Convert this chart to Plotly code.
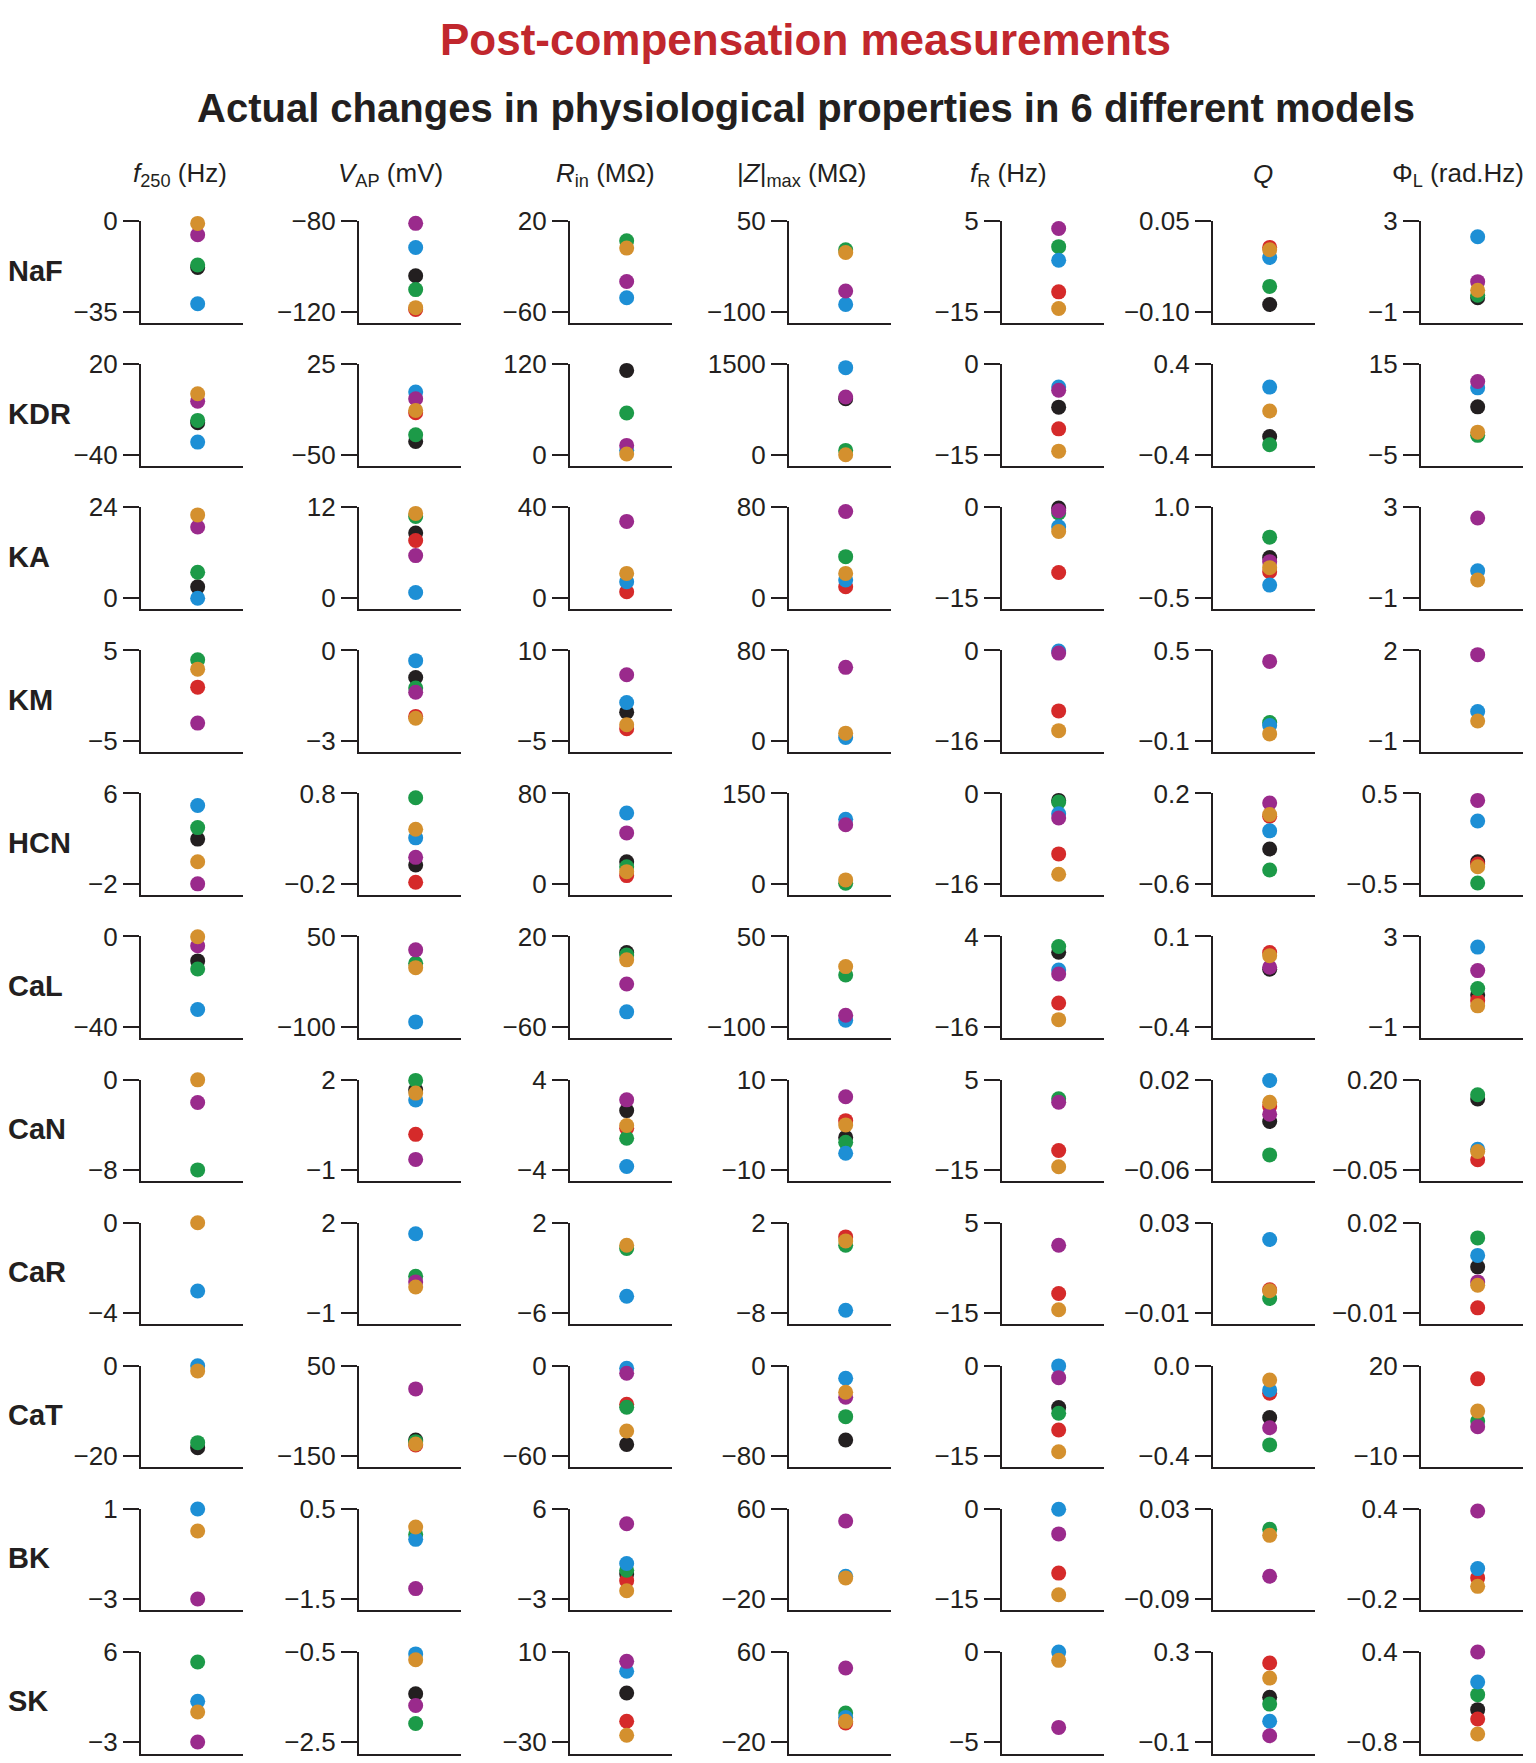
import plotly.graph_objects as go

# channels (rows) and measured properties (columns)
channels = ["NaF", "KDR", "KA", "KM", "HCN", "CaL", "CaN", "CaR", "CaT", "BK", "SK"]
properties = ["<i>f</i><sub>250</sub> (Hz)", "<i>V</i><sub>AP</sub> (mV)", "<i>R</i><sub>in</sub> (MΩ)",
              "|<i>Z</i>|<sub>max</sub> (MΩ)", "<i>f</i><sub>R</sub> (Hz)", "<i>Q</i>", "Φ<sub>L</sub> (rad.Hz)"]

# tick labels, one row per channel, one entry per property
tick_top = [
    ["0", "−80", "20", "50", "5", "0.05", "3"],
    ["20", "25", "120", "1500", "0", "0.4", "15"],
    ["24", "12", "40", "80", "0", "1.0", "3"],
    ["5", "0", "10", "80", "0", "0.5", "2"],
    ["6", "0.8", "80", "150", "0", "0.2", "0.5"],
    ["0", "50", "20", "50", "4", "0.1", "3"],
    ["0", "2", "4", "10", "5", "0.02", "0.20"],
    ["0", "2", "2", "2", "5", "0.03", "0.02"],
    ["0", "50", "0", "0", "0", "0.0", "20"],
    ["1", "0.5", "6", "60", "0", "0.03", "0.4"],
    ["6", "−0.5", "10", "60", "0", "0.3", "0.4"],
]
tick_bot = [
    ["−35", "−120", "−60", "−100", "−15", "−0.10", "−1"],
    ["−40", "−50", "0", "0", "−15", "−0.4", "−5"],
    ["0", "0", "0", "0", "−15", "−0.5", "−1"],
    ["−5", "−3", "−5", "0", "−16", "−0.1", "−1"],
    ["−2", "−0.2", "0", "0", "−16", "−0.6", "−0.5"],
    ["−40", "−100", "−60", "−100", "−16", "−0.4", "−1"],
    ["−8", "−1", "−4", "−10", "−15", "−0.06", "−0.05"],
    ["−4", "−1", "−6", "−8", "−15", "−0.01", "−0.01"],
    ["−20", "−150", "−60", "−80", "−15", "−0.4", "−10"],
    ["−3", "−1.5", "−3", "−20", "−15", "−0.09", "−0.2"],
    ["−3", "−2.5", "−30", "−20", "−5", "−0.1", "−0.8"],
]

# values for each of the 6 models (None = not visible)
model_black = [
    [-17.9, -104.1, None, None, None, -0.088, -0.38],
    [-18.7, -38.9, 112, 930, -7.1, -0.238, 5.6],
    [2.9, 8.6, None, None, -0.1, 0.167, None],
    [None, -0.90, -0.24, None, None, None, None],
    [1.96, 0.009, 19.6, None, -1.23, -0.292, -0.255],
    [-10.8, None, 5.8, None, 0.52, -0.081, 0.41],
    [None, 1.66, 1.25, -2.8, None, -0.0172, 0.146],
    [None, None, None, None, None, None, 0.0053],
    [-18.15, -114.6, -52.3, -65.8, -6.97, -0.230, None],
    [None, None, -0.5, None, None, None, None],
    [None, -1.43, -8.3, None, None, 0.098, -0.37],
]
model_red = [
    [None, -119, None, None, -10.6, 0.0067, None],
    [None, -15.1, None, None, -10.7, None, None],
    [None, 7.6, 2.7, 9.8, -10.8, -0.067, None],
    [0.94, -2.19, -3.0, None, -10.7, None, None],
    [None, -0.182, 7.3, None, -10.7, -0.002, -0.28],
    [None, None, None, None, -10.7, 0.011, 0.16],
    [None, 0.18, -0.31, 0.9, -10.7, -0.0039, -0.022],
    [None, None, None, 0.41, -10.7, 0.0003, -0.0083],
    [None, -125.6, -25.7, None, -10.7, -0.122, 15.6],
    [None, None, -1.17, None, -10.7, None, -0.06],
    [None, None, -20.8, -3.2, None, 0.25, -0.494],
]
model_green = [
    [-16.9, -110.2, 2.8, 2.8, -0.6, -0.058, -0.27],
    [-17.2, -33.4, 55.4, 72, None, -0.311, -0.7],
    [6.8, 10.8, None, 36.4, -0.94, 0.506, None],
    [3.97, -1.25, None, None, None, 0.022, None],
    [2.98, 0.752, 15.2, 1, -1.52, -0.477, -0.49],
    [-14.4, 5.6, 3.7, -13.9, 1.78, None, 0.70],
    [-8.0, 1.97, -1.2, -3.9, 0.72, -0.0467, 0.158],
    [None, 0.22, -0.3, -0.51, None, -0.0036, 0.0149],
    [-17.05, -118.3, -27.7, -45.2, -7.9, -0.351, 1.6],
    [None, -0.07, -0.13, None, None, 0.0025, None],
    [4.97, -2.09, None, 5.7, None, 0.068, -0.171],
]
model_blue = [
    [-31.9, -91.6, -47.6, -87.8, -3.6, -0.01, 2.32],
    [-31.6, 2.0, 6, 1445, -3.76, 0.199, 9.8],
    [-0.1, 0.7, 7.1, 15.7, -3.2, -0.289, 0.2],
    [None, -0.34, 1.37, 3.0, -0.1, 0.002, -0.03],
    [4.94, 0.309, 62.7, 107, -3.58, -0.131, 0.196],
    [-32.3, -91.7, -46.7, -88.9, -3.4, None, 2.53],
    [None, 1.32, -3.7, -6.3, None, 0.0191, 0.007],
    [-3.03, 1.63, -4.52, -7.7, None, 0.0225, 0.0091],
    [-0.05, None, -1.8, -11.2, -0.05, -0.108, None],
    [0.98, -0.18, 0.53, 0.2, -0.1, None, 0.002],
    [1.05, -0.55, 1.3, 1.8, -0.02, -0.008, -0.003],
]
model_purple = [
    [-5.2, -80.9, -33.3, -65.6, 3.4, None, 0.33],
    [-4.4, -3.5, 12.4, 958, -4.3, None, 11.2],
    [18.8, 5.6, 33.8, 76.4, -0.56, 0.1, 2.53],
    [-3.04, -1.39, 5.96, 65, -0.47, 0.427, 1.86],
    [-2.0, 0.093, 45.1, 98, -4.34, 0.115, 0.423],
    [-4.1, 27.8, -22.1, -80.6, -4.3, -0.07, 1.49],
    [-2.04, -0.65, 2.2, 6.2, -0.02, -0.0107, None],
    [None, 0.03, None, None, -0.02, None, 0.0003],
    [None, -1.6, -5.1, -28.0, -2.0, -0.275, -0.3],
    [-3.0, -1.27, 4.5, 49, -4.2, -0.0598, 0.384],
    [-3.0, -1.69, 5.7, 45.5, -4.19, -0.072, 0.396],
]
model_orange = [
    [-0.8, -118.2, -3.7, -1.7, -14.3, 0.0028, -0.05],
    [0.5, -13.2, 1.0, 0, -14.4, -0.013, 0.0],
    [22.0, 11.2, 10.8, 21.6, -4.0, 0.0, -0.21],
    [2.93, -2.25, -2.34, 6.8, -14.2, -0.054, -0.34],
    [-0.04, 0.404, 10.8, 6.6, -14.3, 0.013, -0.31],
    [-0.1, -1.7, -0.7, 0, -14.4, -0.006, -0.07],
    [-0.03, 1.55, -0.07, -0.04, -14.3, -0.0001, 0.001],
    [-0.01, -0.14, -0.01, -0.03, -14.3, -0.0002, -0.0008],
    [-1.18, -123.4, -43.4, -23.6, -14.3, -0.064, 4.9],
    [0.01, 0.093, -2.17, -1.3, -14.3, -0.0055, -0.116],
    [-0.01, -0.68, -27.0, -1.7, -0.48, 0.183, -0.694],
]

models = [model_black, model_red, model_green, model_blue, model_purple, model_orange]
model_colors = ["#231f20", "#d52a2a", "#1c9a48", "#1d8fd5", "#9a2a8c", "#d4902e"]

# page positions (px). The figure does not start at the page corner
# (body margin + a small gap above the div), so everything is offset
OFF_X, OFF_Y = 8, 23
W, H = 1520, 1752
col_x = [141, 359, 570, 789, 1002, 1213, 1421]
row_top = 223.5
row_step = 144.6
tick_span = 91.4
axis_gap = 11.6
axis_len = 102
ink = "#231f20"
tick_font = dict(family="Liberation Sans, Arial", size=26, color=ink)


def px(x):
    return (x - OFF_X) / W


def py(y):
    return 1 - (y - OFF_Y) / H


def num(s):
    return float(s.replace("−", "-"))


fig = go.Figure()
layout = {}
n = 0
for r, ch in enumerate(channels):
    top = row_top + r * row_step
    for c in range(len(properties)):
        n += 1
        hi = num(tick_top[r][c])
        lo = num(tick_bot[r][c])
        ys, cols = [], []
        for m, col in zip(models, model_colors):
            if m[r][c] is not None:
                ys.append(m[r][c])
                cols.append(col)
        sfx = "" if n == 1 else str(n)
        fig.add_trace(go.Scatter(
            x=[1] * len(ys), y=ys, mode="markers",
            marker=dict(size=15, color=cols, line=dict(width=0)),
            cliponaxis=False, showlegend=False, hoverinfo="y",
            xaxis="x" + sfx, yaxis="y" + sfx))
        layout["xaxis" + sfx] = dict(
            domain=[px(col_x[c]), px(col_x[c] + axis_len)],
            range=[0, 1.8], showline=True, linewidth=2.2, linecolor=ink,
            showgrid=False, zeroline=False, showticklabels=False, ticks="",
            anchor="y" + sfx, fixedrange=True)
        layout["yaxis" + sfx] = dict(
            domain=[py(top + tick_span + axis_gap), py(top)],
            range=[lo - (hi - lo) * axis_gap / tick_span, hi],
            tickvals=[lo, hi], ticktext=[tick_bot[r][c], tick_top[r][c]],
            ticks="outside", ticklen=16, tickwidth=2.2, tickcolor=ink,
            showline=True, linewidth=2.2, linecolor=ink,
            showgrid=False, zeroline=False, tickfont=tick_font,
            anchor="x" + sfx, fixedrange=True)

annotations = [
    dict(text="<b>Post-compensation measurements</b>", x=px(805), y=py(40),
         font=dict(family="Liberation Sans, Arial", size=44, color="#c1272d")),
    dict(text="<b>Actual changes in physiological properties in 6 different models</b>",
         x=px(806), y=py(109),
         font=dict(family="Liberation Sans, Arial", size=40, color=ink)),
]
header_x = [180, 390, 605, 801, 1008, 1263, 1458]
for hx, p in zip(header_x, properties):
    annotations.append(dict(text=p, x=px(hx), y=py(176),
                            font=dict(family="Liberation Sans, Arial", size=26, color=ink)))
for r, ch in enumerate(channels):
    annotations.append(dict(text=f"<b>{ch}</b>", x=px(6), y=py(row_top + r * row_step + 50),
                            xanchor="left", font=dict(family="Liberation Sans, Arial", size=29, color=ink)))
for a in annotations:
    a.update(xref="paper", yref="paper", showarrow=False)
    a.setdefault("xanchor", "center")
    a.setdefault("yanchor", "middle")

fig.update_layout(**layout)
fig.update_layout(width=W, height=H, margin=dict(l=0, r=0, t=0, b=0),
                  plot_bgcolor="white", paper_bgcolor="white",
                  annotations=annotations)
fig.write_html("out.html")
